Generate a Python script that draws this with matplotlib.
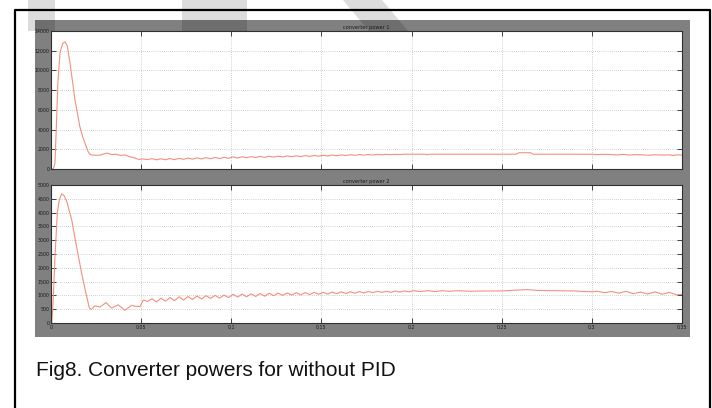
import matplotlib.pyplot as plt
from matplotlib.patches import Rectangle, Polygon

################################################################
# data

titles = ['converter power 1', 'converter power 2']
x_ticks = [0, 0.05, 0.1, 0.15, 0.2, 0.25, 0.3, 0.35]
x_tick_labels = ['0', '0.05', '0.1', '0.15', '0.2', '0.25', '0.3', '0.35']
y_ticks_1 = [0, 2000, 4000, 6000, 8000, 10000, 12000, 14000]
y_ticks_2 = [0, 500, 1000, 1500, 2000, 2500, 3000, 3500, 4000, 4500, 5000]
caption = 'Fig8. Converter powers for without PID'

# converter power 1
t1 = [0.0, 0.0013, 0.0022, 0.003, 0.0038, 0.005, 0.0065, 0.0078, 0.009, 0.0105,
      0.012, 0.0133, 0.0147, 0.016, 0.0175, 0.0189, 0.0205, 0.0215, 0.0225, 0.025,
      0.0275, 0.030, 0.0315, 0.0335, 0.036, 0.0385, 0.041, 0.0435, 0.046, 0.0485,
      0.051, 0.0535, 0.056, 0.0585, 0.061, 0.0635, 0.066, 0.0685, 0.071, 0.0735,
      0.076, 0.0785, 0.081, 0.0835, 0.086, 0.0885, 0.091, 0.0935, 0.096, 0.0985,
      0.101, 0.1035, 0.106, 0.1085, 0.111, 0.1135, 0.116, 0.1185, 0.121, 0.1235,
      0.126, 0.1285, 0.131, 0.1335, 0.136, 0.1385, 0.141, 0.1435, 0.146, 0.1485,
      0.151, 0.1535, 0.156, 0.1585, 0.161, 0.1635, 0.166, 0.1685, 0.171, 0.1735,
      0.176, 0.1785, 0.181, 0.1835, 0.186, 0.1885, 0.191, 0.1935, 0.196, 0.2,
      0.207, 0.2085, 0.21, 0.258, 0.2595, 0.266, 0.2675, 0.29, 0.300, 0.303,
      0.306, 0.310, 0.314, 0.317, 0.321, 0.324, 0.328, 0.332, 0.335, 0.339,
      0.343, 0.345, 0.347, 0.35]
p1 = [0, 0, 600, 4500, 8700, 11800, 12750, 12900, 12500, 10800,
      8800, 7000, 5600, 4300, 3300, 2600, 1800, 1500, 1420, 1390,
      1420, 1580, 1600, 1470, 1500, 1380, 1420, 1250, 1150, 980,
      1020, 960, 1050, 930, 1040, 940, 1060, 950, 1080, 980,
      1110, 1000, 1130, 1020, 1150, 1040, 1170, 1060, 1190, 1080,
      1230, 1110, 1240, 1140, 1260, 1160, 1280, 1180, 1300, 1200,
      1310, 1220, 1330, 1240, 1340, 1260, 1360, 1280, 1370, 1300,
      1390, 1320, 1420, 1340, 1430, 1370, 1450, 1390, 1460, 1410,
      1470, 1420, 1480, 1440, 1490, 1460, 1490, 1470, 1500, 1500,
      1500, 1460, 1500, 1500, 1650, 1650, 1500, 1500, 1490, 1460,
      1490, 1470, 1430, 1480, 1420, 1460, 1430, 1400, 1440, 1420,
      1430, 1370, 1430, 1420]

# converter power 2
t2 = [0.0, 0.0004, 0.0012, 0.0022, 0.0035, 0.0046, 0.0059, 0.0072, 0.0087, 0.0115,
      0.0142, 0.017, 0.0194, 0.0212, 0.0222, 0.0244, 0.0272, 0.0305, 0.0336, 0.0373,
      0.041, 0.0447, 0.047, 0.0494, 0.0512, 0.0535, 0.056, 0.0585, 0.061, 0.0635,
      0.066, 0.0685, 0.071, 0.0735, 0.076, 0.0785, 0.081, 0.0835, 0.086, 0.0885,
      0.091, 0.0935, 0.096, 0.0985, 0.101, 0.1035, 0.106, 0.1085, 0.111, 0.1135,
      0.116, 0.1185, 0.121, 0.1235, 0.126, 0.1285, 0.131, 0.1335, 0.136, 0.1385,
      0.141, 0.1435, 0.146, 0.1485, 0.151, 0.1535, 0.156, 0.1585, 0.161, 0.1635,
      0.166, 0.1685, 0.171, 0.1735, 0.176, 0.1785, 0.181, 0.1835, 0.186, 0.1885,
      0.191, 0.1935, 0.196, 0.1985, 0.201, 0.205, 0.209, 0.213, 0.217, 0.221,
      0.226, 0.232, 0.24, 0.25, 0.258, 0.264, 0.27, 0.28, 0.29, 0.30,
      0.303, 0.307, 0.311, 0.315, 0.319, 0.323, 0.327, 0.331, 0.335, 0.339,
      0.343, 0.347, 0.35]
p2 = [0, 0, 800, 2400, 3980, 4460, 4680, 4620, 4420, 3730,
      2760, 1800, 1070, 560, 490, 620, 580, 740, 540, 660,
      460, 640, 600, 600, 830, 780, 880, 760, 900, 790,
      920, 810, 950, 830, 960, 850, 980, 870, 990, 890,
      1000, 900, 1010, 920, 1040, 940, 1050, 950, 1060, 960,
      1070, 970, 1080, 990, 1080, 1000, 1090, 1010, 1100, 1020,
      1100, 1030, 1110, 1040, 1110, 1050, 1120, 1060, 1130, 1070,
      1130, 1080, 1140, 1090, 1140, 1100, 1150, 1110, 1150, 1110,
      1160, 1120, 1160, 1130, 1170, 1140, 1170, 1140, 1170, 1150,
      1170, 1150, 1160, 1160, 1190, 1210, 1180, 1170, 1160, 1130,
      1150, 1100, 1140, 1080, 1150, 1060, 1120, 1050, 1130, 1040,
      1110, 1020, 1040]

################################################################

W, H = 712, 408
LINE_COLOR = '#f2907e'
PANEL = '#808080'
WATERMARK = [[(28, 0), (55, 0), (55, 31), (28, 31)],
             [(182, 0), (247, 0), (247, 31), (182, 31)],
             [(343, 0), (382, 0), (408, 31), (369, 31)]]


def px_box(left, top, right, bottom):
    # pixel box -> figure fraction [l, b, w, h]
    return [left / W, 1 - bottom / H, (right - left) / W, (bottom - top) / H]


def style_axes(ax, yticks, title, show_xlabels):
    ax.set_xlim(0, 0.35)
    ax.set_ylim(yticks[0], yticks[-1])
    ax.set_xticks(x_ticks)
    ax.set_yticks(yticks)
    ax.set_yticklabels([str(v) for v in yticks])
    if show_xlabels:
        ax.set_xticklabels(x_tick_labels)
    else:
        ax.set_xticklabels([])
    ax.tick_params(direction='in', length=3.5, width=0.7, colors='#404040',
                   labelsize=3.4, labelcolor='#1a1a1a', pad=1.2,
                   top=True, right=True)
    ax.grid(True, color='#a8a8a8', linestyle=(0, (1, 2)), linewidth=0.5)
    for s in ax.spines.values():
        s.set_color('#303030')
        s.set_linewidth(0.8)
    ax.set_title(title, fontsize=3.6, color='#1a1a1a', pad=1.5)


fig = plt.figure(figsize=(W / 100, H / 100), dpi=100)

# background: page, faint watermark, frame and grey scope panel
bg = fig.add_axes([0, 0, 1, 1], zorder=0)
bg.set_xlim(0, W)
bg.set_ylim(H, 0)
bg.axis('off')
for shape in WATERMARK:
    bg.add_patch(Polygon(shape, closed=True, facecolor='#dcdcdc',
                         edgecolor='none'))
bg.plot([14.5, 14.5, 710, 710], [H + 5, 10, 10, H + 5], color='black', lw=1.6)
panel = Rectangle((35, 20), 655, 317, facecolor=PANEL, edgecolor='none')
bg.add_patch(panel)
# watermark shows through the panel slightly darker
for shape in WATERMARK:
    p = Polygon(shape, closed=True, facecolor='#6e6e6e', edgecolor='none')
    bg.add_patch(p)
    p.set_clip_path(panel)
bg.text(36, 376.5, caption, fontsize=15, family='Liberation Sans',
        color='#111111', va='baseline', ha='left')

ax1 = fig.add_axes(px_box(51, 31, 682, 169), zorder=1)
ax1.plot(t1, p1, color=LINE_COLOR, lw=0.8)
style_axes(ax1, y_ticks_1, titles[0], False)

ax2 = fig.add_axes(px_box(51, 185, 682, 323), zorder=1)
ax2.plot(t2, p2, color=LINE_COLOR, lw=0.8)
style_axes(ax2, y_ticks_2, titles[1], True)

fig.savefig('out.png', dpi=100)
